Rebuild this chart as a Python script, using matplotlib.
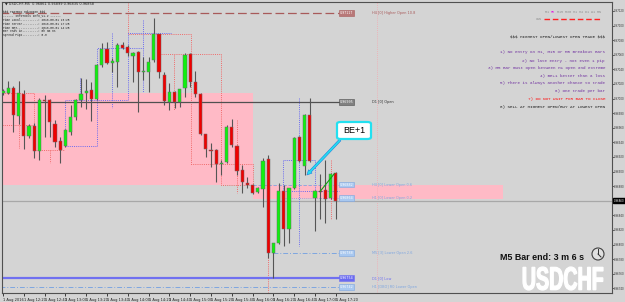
import matplotlib
matplotlib.use("Agg")
import matplotlib.pyplot as plt
from matplotlib.patches import FancyBboxPatch, Ellipse, FancyArrowPatch, PathPatch
from matplotlib.lines import Line2D
from matplotlib.textpath import TextPath
from matplotlib.font_manager import FontProperties
import matplotlib.transforms as mtrans
import numpy as np

# ---------------- data ----------------
opens = [0.97008, 0.97008, 0.97014, 0.96976, 0.97006, 0.96949, 0.96962, 0.96928, 0.96998, 0.96998,
         0.96965, 0.96942, 0.96935, 0.96954, 0.96975, 0.96998, 0.97008, 0.97012, 0.96999, 0.97046,
         0.97068, 0.97049, 0.97050, 0.97073, 0.97071, 0.97058, 0.97064, 0.97036, 0.97036, 0.97053,
         0.97088, 0.97032, 0.96995, 0.97009, 0.96995, 0.97014, 0.97061, 0.97023, 0.97006, 0.96951,
         0.96930, 0.96930, 0.96910, 0.96913, 0.96961, 0.96935, 0.96902, 0.96884, 0.96882, 0.96872,
         0.96876, 0.96917, 0.96788, 0.96802, 0.96873, 0.96821, 0.96877, 0.96947, 0.96908, 0.96977,
         0.96864, 0.96873, 0.96875, 0.96864, 0.96898]
highs = [0.97013, 0.97024, 0.97017, 0.97024, 0.97012, 0.96965, 0.96966, 0.97001, 0.97005, 0.96999,
         0.96971, 0.96947, 0.96958, 0.96991, 0.96999, 0.97028, 0.97027, 0.97023, 0.97047, 0.97076,
         0.97077, 0.97056, 0.97076, 0.97077, 0.97073, 0.97064, 0.97065, 0.97057, 0.97057, 0.97110,
         0.97089, 0.97036, 0.97021, 0.97010, 0.97013, 0.97062, 0.97062, 0.97038, 0.97007, 0.96952,
         0.96939, 0.96931, 0.96916, 0.96964, 0.96972, 0.96936, 0.96909, 0.96893, 0.96883, 0.96879,
         0.96919, 0.96923, 0.96802, 0.96884, 0.96882, 0.96877, 0.96947, 0.96949, 0.96979, 0.97001,
         0.96875, 0.96897, 0.96916, 0.96898, 0.96899]
lows = [0.97005, 0.97006, 0.96954, 0.96965, 0.96931, 0.96946, 0.96919, 0.96916, 0.96947, 0.96947,
        0.96934, 0.96912, 0.96934, 0.96950, 0.96971, 0.96988, 0.96986, 0.96969, 0.96998, 0.97043,
        0.97047, 0.97036, 0.97016, 0.97068, 0.97058, 0.97023, 0.96982, 0.97025, 0.97009, 0.97050,
        0.97028, 0.96991, 0.96984, 0.96987, 0.96988, 0.97002, 0.97016, 0.97002, 0.96950, 0.96920,
        0.96906, 0.96886, 0.96895, 0.96912, 0.96934, 0.96895, 0.96871, 0.96877, 0.96869, 0.96871,
        0.96851, 0.96782, 0.96754, 0.96801, 0.96798, 0.96802, 0.96876, 0.96913, 0.96895, 0.96913,
        0.96819, 0.96835, 0.96829, 0.96862, 0.96835]
closes = [0.97010, 0.97014, 0.96977, 0.97008, 0.96949, 0.96962, 0.96928, 0.96998, 0.96997, 0.96968,
          0.96940, 0.96930, 0.96957, 0.96975, 0.96998, 0.97006, 0.97010, 0.96999, 0.97046, 0.97068,
          0.97049, 0.97051, 0.97073, 0.97069, 0.97062, 0.97062, 0.97036, 0.97038, 0.97050, 0.97088,
          0.97036, 0.96997, 0.97009, 0.96995, 0.97013, 0.97060, 0.97023, 0.97006, 0.96951, 0.96931,
          0.96928, 0.96910, 0.96912, 0.96961, 0.96936, 0.96901, 0.96886, 0.96882, 0.96871, 0.96877,
          0.96914, 0.96788, 0.96802, 0.96873, 0.96821, 0.96877, 0.96946, 0.96914, 0.96977, 0.96914,
          0.96873, 0.96872, 0.96862, 0.96897, 0.96860]

time_labels = ["1 Aug 2016", "1 Aug 12:20", "1 Aug 12:40", "1 Aug 13:00", "1 Aug 13:20",
               "1 Aug 13:40", "1 Aug 14:00", "1 Aug 14:20", "1 Aug 14:40", "1 Aug 15:00",
               "1 Aug 15:20", "1 Aug 15:40", "1 Aug 16:00", "1 Aug 16:20", "1 Aug 16:40",
               "1 Aug 17:00", "1 Aug 17:20"]
time_label_bars = list(range(0, 65, 4))

price_ticks = [0.97120, 0.97100, 0.97080, 0.97060, 0.97040, 0.97020, 0.97000, 0.96980,
               0.96960, 0.96940, 0.96920, 0.96900, 0.96880, 0.96860, 0.96840, 0.96820,
               0.96800, 0.96780, 0.96760, 0.96740]

# zones (bar start, bar end, price low, price high)
zone_x0 = [-0.5, 48.1]
zone_x1 = [48.1, 96.2]
zone_lo = [0.96882, 0.96862]
zone_hi = [0.97008, 0.96882]

# level lines
level_names = ["H4 [0] Higher Open 10.8", "D1 [0] Open", "H4 [0] Lower Open 0.6",
               "H1 [0] Lower Open 0.2", "M5 [3] Lower Open 2.6", "D1 [0] Low",
               "H1 [DBO] R0 Lower Open"]
level_prices = [0.97117, 0.96995, 0.96882, 0.96864, 0.96788, 0.96754, 0.96742]
level_start = [-0.5, -0.5, 48.1, 53.8, 52.0, -0.5, -0.5]
level_colors = ["#a85a5a", "#505050", "#7ea6e0", "#7ea6e0", "#7ea6e0", "#7070f0", "#7ea6e0"]
level_box = ["#b87878", "#808080", "#a8c8f0", "#a8c8f0", "#a8c8f0", "#6a6af0", "#a8c8f0"]
level_styles = [(0, (7, 3)), "-", (0, (4, 2)), (0, (1, 1.5)), (0, (5, 2, 1, 2)), "-", (0, (5, 2, 1, 2))]
level_widths = [0.9, 0.9, 0.6, 0.6, 0.7, 1.6, 0.7]

red_boxes = [
    ([-0.5, 6, 6, 11.7], [0.97008, 0.97008, 0.96930, 0.96930]),
    ([3, 3], [0.97024, 0.96932]),
    ([-0.5, 6], [0.96964, 0.96964]),
    ([9, 9], [0.96930, 0.96912]),
    ([24, 24, 36.2, 36.2, 42], [0.97132, 0.97088, 0.97088, 0.96910, 0.96910]),
    ([30.4, 42, 42, 48.1, 48.1, 42], [0.97061, 0.97061, 0.96882, 0.96882, 0.96910, 0.96910]),
    ([32.9, 32.9], [0.97060, 0.96984]),
    ([45, 45], [0.96971, 0.96871]),
    ([51, 51], [0.96788, 0.96735]),
    ([63, 63], [0.96916, 0.96835]),
]
blue_boxes = [
    ([12, 12, 24, 24, 32.3], [0.96935, 0.96998, 0.96998, 0.97090, 0.97090]),
    ([12, 18.1, 18.1, 27], [0.96935, 0.96935, 0.97069, 0.97069]),
    ([27, 27], [0.97108, 0.97009]),
    ([14.8, 14.8], [0.97028, 0.96998]),
    ([21, 21], [0.97090, 0.96987]),
    ([57, 57], [0.97001, 0.96798]),
    ([53.8, 53.8, 60, 60], [0.96873, 0.96916, 0.96916, 0.96873]),
    ([53.8, 64.6], [0.96873, 0.96873]),
]
trend_x = [61, 63.7]
trend_y = [0.96873, 0.96897]

bid_price = closes[-1]

rules = [r"\$\$\$ HIGHEST OPEN/LOWEST OPEN TRADE \$\$\$",
         "1) No entry on H1, M15 or M5 Breakout Bars",
         "2) No late entry - not even 1 pip",
         "3) M5 Bar must open between H1 open and extreme",
         "4) BE+1 better than a loss",
         "5) There is always another chance to trade",
         "6) One trade per bar",
         "7) DO NOT WAIT FOR BAR TO CLOSE",
         "8) SELL AT HIGHEST OPEN/BUY AT LOWEST OPEN"]
rule_colors = ["#202020"] + ["#7030a0"] * 6 + ["#ff1010", "#202020"]

info_lines = [r"\$\$\$ TDATBox_HdLoOpen \$\$\$",
              "------ InfoTools Info_v1.2 ------",
              "Time Local..........: 2016.08.01 16:25",
              "Time Server.........: 2016.08.01 17:25",
              "Time GMT............: 2016.08.01 14:25",
              "Bar ends in.........: 0h 3m 6s",
              "Spread Pips.........: 0.8"]

# ---------------- figure ----------------
W, H = 625, 302
BG = "#d4d4d4"
fig = plt.figure(figsize=(W / 100, H / 100), dpi=100)
fig.patch.set_facecolor(BG)
ax = fig.add_axes([2 / W, (H - 293) / H, 610 / W, 291 / H])
ax.set_facecolor(BG)
ax.set_xlim(-0.2, 117.1)
ax.set_ylim(0.967336, 0.971323)

def fx(px):
    return px / W

def fy(py):
    return 1 - py / H

# zones
for x0, x1, lo, hi in zip(zone_x0, zone_x1, zone_lo, zone_hi):
    ax.axhspan(lo, hi, xmin=(x0 + 0.2) / 117.3, xmax=(x1 + 0.2) / 117.3,
               facecolor="#ffbac6", edgecolor="none", zorder=0.5)

# dotted boxes
for xs, ys in red_boxes:
    ax.plot(xs, ys, color="#f06a6a", lw=0.7, ls=(0, (1, 1.2)), zorder=1)
for xs, ys in blue_boxes:
    ax.plot(xs, ys, color="#6a6af0", lw=0.7, ls=(0, (1, 1.2)), zorder=1)
ax.axvline(72, color="#f4a8b0", lw=0.6, ls=(0, (1, 1.5)), zorder=0.6)

# bid line
ax.axhline(bid_price, color="#a8a8a8", lw=0.9, zorder=0.8)

# level lines
for name, p, s, c, bc, st, lw in zip(level_names, level_prices, level_start, level_colors,
                                      level_box, level_styles, level_widths):
    ax.plot([s, 64.6], [p, p], color=c, ls=st, lw=lw, zorder=1.2)
    ax.text(64.7, p, f"{p:.5f}", fontsize=2.3, color="white", va="center", ha="left",
            bbox=dict(boxstyle="square,pad=0.25", fc=bc, ec=c, lw=0.4), zorder=5)
    ax.text(71, p, name, fontsize=2.5, color=c if c != "#505050" else "#303030",
            va="center", ha="left", zorder=5)

# candles
idx = np.arange(len(opens))
o = np.array(opens); h = np.array(highs); l = np.array(lows); c = np.array(closes)
up = c >= o
ax.vlines(idx, l, h, color="#555555", lw=0.8, zorder=2)
body = np.maximum(np.abs(c - o), 0.000012)
ax.bar(idx, body, bottom=np.minimum(o, c), width=0.62,
       color=np.where(up, "#10f010", "#f00000"), edgecolor="#6a6a6a", linewidth=0.35, zorder=3)

ax.plot(trend_x, trend_y, color="#10a010", lw=0.8, zorder=4)

# axes styling
for sp in ax.spines.values():
    sp.set_color("#505050")
    sp.set_linewidth(0.8)
ax.yaxis.tick_right()
ax.set_yticks(price_ticks)
ax.set_yticklabels(["" if abs(v - bid_price) < 0.00005 else f"{v:.5f}" for v in price_ticks],
                   fontsize=1.9, color="#202020")
ax.tick_params(axis="y", length=1.2, width=0.5, pad=0.4, colors="#303030")
ax.set_xticks(time_label_bars)
ax.set_xticklabels(time_labels, fontsize=2.6, color="#202020", ha="left")
ax.tick_params(axis="x", length=2.5, width=0.5, pad=0.8)

# current price tag
trans = mtrans.blended_transform_factory(ax.transAxes, ax.transData)
ax.text(1.0025, bid_price, f"{bid_price:.5f}", transform=trans, fontsize=1.9, color="white",
        va="center", ha="left", bbox=dict(boxstyle="square,pad=0.2", fc="black", ec="black"),
        zorder=6, clip_on=False)

# top-left info
fig.text(fx(5), fy(4), "\u25bc USDCHF,M5  0.96861 0.96899 0.96835 0.96858", fontsize=2.5,
         color="#202020", va="center")
for k, line in enumerate(info_lines):
    fig.text(fx(3), fy(12 + k * 3.9), line, fontsize=2.2, color="#202020", va="center",
             family="Liberation Mono")

# timeframe bar
tf_parts = [("M1 ", "#909090"), ("M5", "#e020e0"), (" M15 M30 H1 H4 D1 W1 MN", "#909090")]
xpos = 545
for txt, col in tf_parts:
    fig.text(fx(xpos), fy(12), txt, fontsize=2.4, family="Liberation Mono", color=col, va="center")
    xpos += len(txt) * 0.6 * 2.4 * 100 / 72
fig.text(fx(536), fy(19), "CAN", fontsize=2.4, family="Liberation Mono", color="#909090", va="center")
fig.add_artist(Line2D([fx(544), fx(602)], [fy(19), fy(19)], color="#ff2020", lw=1.0,
                      ls=(0, (4, 2)), transform=fig.transFigure))

# rules
rule_y = [36, 52, 61, 68, 76, 83, 91, 99, 107]
for txt, col, yy in zip(rules, rule_colors, rule_y):
    fig.text(fx(605), fy(yy), txt, fontsize=3.1, family="Liberation Mono", color=col,
             ha="right", va="center")

# BE+1 callout
arrow = FancyArrowPatch((fx(342), fy(138)), (fx(305), fy(177)), transform=fig.transFigure,
                        arrowstyle="simple,head_length=3.5,head_width=3.5,tail_width=1.6",
                        fc="#22e0f0", ec="#1a80e0", lw=0.4, zorder=7)
fig.add_artist(arrow)
box = FancyBboxPatch((fx(337), fy(139)), fx(34), 17 / H, boxstyle="round,pad=0,rounding_size=0.006",
                     transform=fig.transFigure, fc="white", ec="#22e0f0", lw=1.6, zorder=8)
fig.add_artist(box)
fig.text(fx(354), fy(130.5), "BE+1", fontsize=6.5, color="black", ha="center", va="center",
         family="Liberation Sans", zorder=9)

# bar end text + clock
fig.text(fx(500), fy(257), "M5 Bar end: 3 m 6 s", fontsize=6.4, weight="bold", color="#101010",
         ha="left", va="center", family="Liberation Sans")
fig.add_artist(Ellipse((fx(598), fy(254)), 12 / W, 12 / H, transform=fig.transFigure,
                       fc="#e0e0e0", ec="#404040", lw=0.8))
fig.add_artist(Line2D([fx(598), fx(598)], [fy(254), fy(249)], color="#303030", lw=0.7,
                      transform=fig.transFigure))
fig.add_artist(Line2D([fx(598), fx(601)], [fy(254), fy(257)], color="#303030", lw=0.7,
                      transform=fig.transFigure))

# symbol watermark (condensed by scaling a text path into its box)
tp = TextPath((0, 0), "USDCHF", size=100, prop=FontProperties(family="Liberation Sans", weight="bold"))
bb = tp.get_extents()
sx = 80 / bb.width
sy = 23 / bb.height
tr = mtrans.Affine2D().translate(-bb.x0, -bb.y0).scale(sx, sy).translate(523, H - 290)
fig.add_artist(PathPatch(tp, transform=tr, fc="white", ec="white", lw=0.9))

fig.savefig("out.png", dpi=100, facecolor=BG)
